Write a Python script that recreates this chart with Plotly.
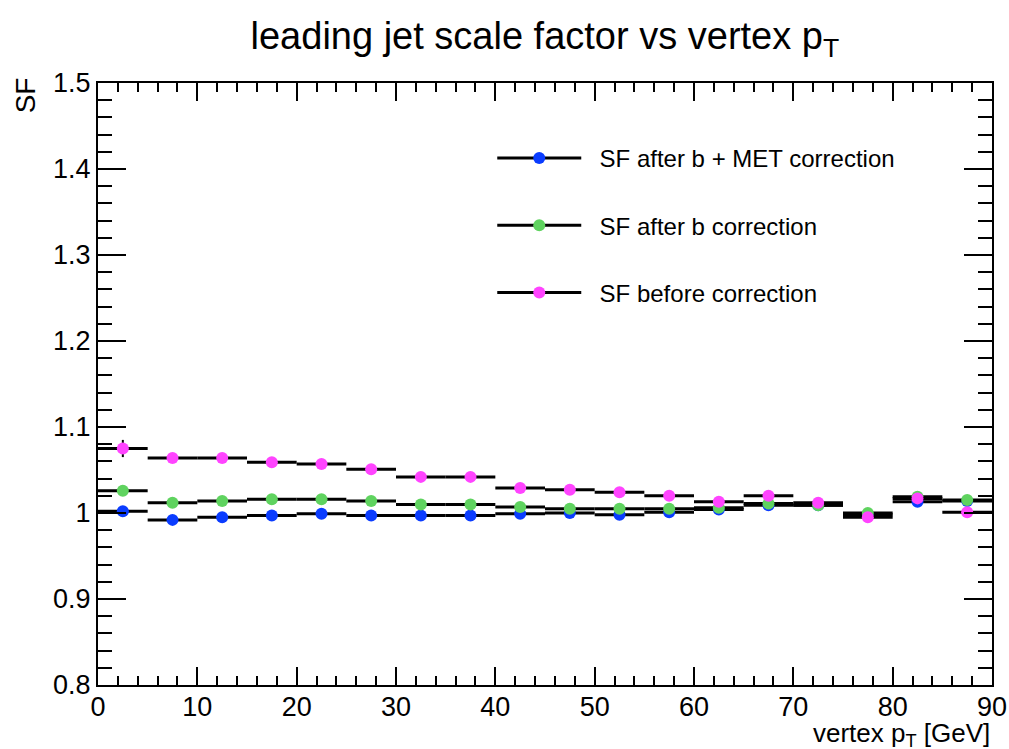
import plotly.graph_objects as go

# Vertex pT bins (GeV): centres and half-widths
bin_centers = [2.5, 7.5, 12.5, 17.5, 22.5, 27.5, 32.5, 37.5, 42.5,
               47.5, 52.5, 57.5, 62.5, 67.5, 72.5, 77.5, 82.5, 87.5]
bin_half_width = [2.5] * len(bin_centers)

# Scale factor after b + MET correction
sf_b_met = [1.002, 0.992, 0.995, 0.997, 0.999, 0.997, 0.997, 0.997, 0.999,
            1.000, 0.998, 1.001, 1.004, 1.009, 1.009, 0.998, 1.013, 1.014]
sf_b_met_err = [0.004, 0.004, 0.004, 0.004, 0.004, 0.004, 0.004, 0.004, 0.004,
                0.004, 0.004, 0.004, 0.004, 0.004, 0.004, 0.004, 0.004, 0.004]

# Scale factor after b correction
sf_b = [1.026, 1.012, 1.014, 1.016, 1.016, 1.014, 1.010, 1.010, 1.007,
        1.005, 1.005, 1.005, 1.006, 1.011, 1.009, 1.000, 1.019, 1.015]
sf_b_err = [0.005, 0.004, 0.004, 0.004, 0.004, 0.004, 0.004, 0.004, 0.004,
            0.004, 0.004, 0.004, 0.004, 0.004, 0.004, 0.004, 0.004, 0.004]

# Scale factor before any correction
sf_raw = [1.075, 1.064, 1.064, 1.059, 1.057, 1.051, 1.042, 1.042, 1.029,
          1.027, 1.024, 1.020, 1.013, 1.020, 1.012, 0.995, 1.017, 1.001]
sf_raw_err = [0.010, 0.004, 0.004, 0.004, 0.004, 0.004, 0.004, 0.004, 0.004,
              0.004, 0.004, 0.004, 0.004, 0.004, 0.004, 0.004, 0.004, 0.004]

series = [
    ("SF after b + MET correction", sf_b_met, sf_b_met_err, "#0a3cff"),
    ("SF after b correction", sf_b, sf_b_err, "#5fd35f"),
    ("SF before correction", sf_raw, sf_raw_err, "#ff44ff"),
]

FONT = "Liberation Sans, Arial, Helvetica, sans-serif"
PAD = "\u00a0\u00a0"  # small gap between legend symbol and text

fig = go.Figure()
for i, (name, vals, errs, color) in enumerate(series):
    fig.add_trace(go.Scatter(
        x=bin_centers, y=vals, mode="markers",
        marker=dict(color=color, size=12, line=dict(width=0)),
        error_x=dict(type="data", array=bin_half_width, visible=True,
                     color="black", thickness=3, width=0),
        error_y=dict(type="data", array=errs, visible=True,
                     color="black", thickness=2, width=0),
        showlegend=False, hoverinfo="x+y",
    ))
    # legend entry: black line with the coloured marker in the middle
    fig.add_trace(go.Scatter(
        x=[None], y=[None], mode="lines+markers", name=PAD + name,
        line=dict(color="black", width=3),
        marker=dict(color=color, size=12),
        legendgroup=f"g{i}", showlegend=True,
    ))

fig.update_layout(
    width=1009, height=749,
    margin=dict(l=98, r=17, t=83, b=64, autoexpand=False),
    paper_bgcolor="white", plot_bgcolor="white",
    font=dict(family=FONT, color="black", size=27),
    title=dict(text="leading jet scale factor vs vertex p<sub>T</sub>",
               x=0.54, xanchor="center", y=0.952, yanchor="middle",
               font=dict(size=38, family=FONT, color="black")),
    legend=dict(x=0.441, xanchor="left", y=0.912, yanchor="top",
                bgcolor="rgba(0,0,0,0)", borderwidth=0,
                font=dict(size=24, family=FONT, color="black"),
                itemwidth=84, tracegroupgap=33, traceorder="grouped"),
    showlegend=True,
)

fig.update_xaxes(
    range=[0, 90], tickmode="linear", tick0=0, dtick=10,
    ticks="inside", ticklen=18, tickwidth=1.5, tickcolor="black",
    minor=dict(dtick=2, ticks="inside", ticklen=9, tickwidth=1.5, tickcolor="black"),
    showline=True, linecolor="black", linewidth=2, mirror="allticks",
    showgrid=False, zeroline=False, automargin=False,
    ticklabelstandoff=-3,
    tickfont=dict(size=27, family=FONT),
)
fig.update_yaxes(
    range=[0.8, 1.5], tickmode="linear", tick0=0.8, dtick=0.1,
    tickformat="~g",
    ticks="inside", ticklen=28, tickwidth=1.5, tickcolor="black",
    minor=dict(dtick=0.02, ticks="inside", ticklen=14, tickwidth=1.5, tickcolor="black"),
    showline=True, linecolor="black", linewidth=2, mirror="allticks",
    showgrid=False, zeroline=False, automargin=False,
    tickfont=dict(size=27, family=FONT),
)

# Axis titles placed ROOT-style (y at the top, x at the right end)
fig.add_annotation(text="SF", xref="paper", yref="paper",
                   x=-0.081, y=1.012, xanchor="center", yanchor="top",
                   textangle=-90, showarrow=False,
                   font=dict(size=28, family=FONT, color="black"))
fig.add_annotation(text="vertex p<sub>T</sub> [GeV]", xref="paper", yref="paper",
                   x=1.0, y=-0.052, xanchor="right", yanchor="top",
                   showarrow=False,
                   font=dict(size=26, family=FONT, color="black"))

fig.write_html("out.html")
